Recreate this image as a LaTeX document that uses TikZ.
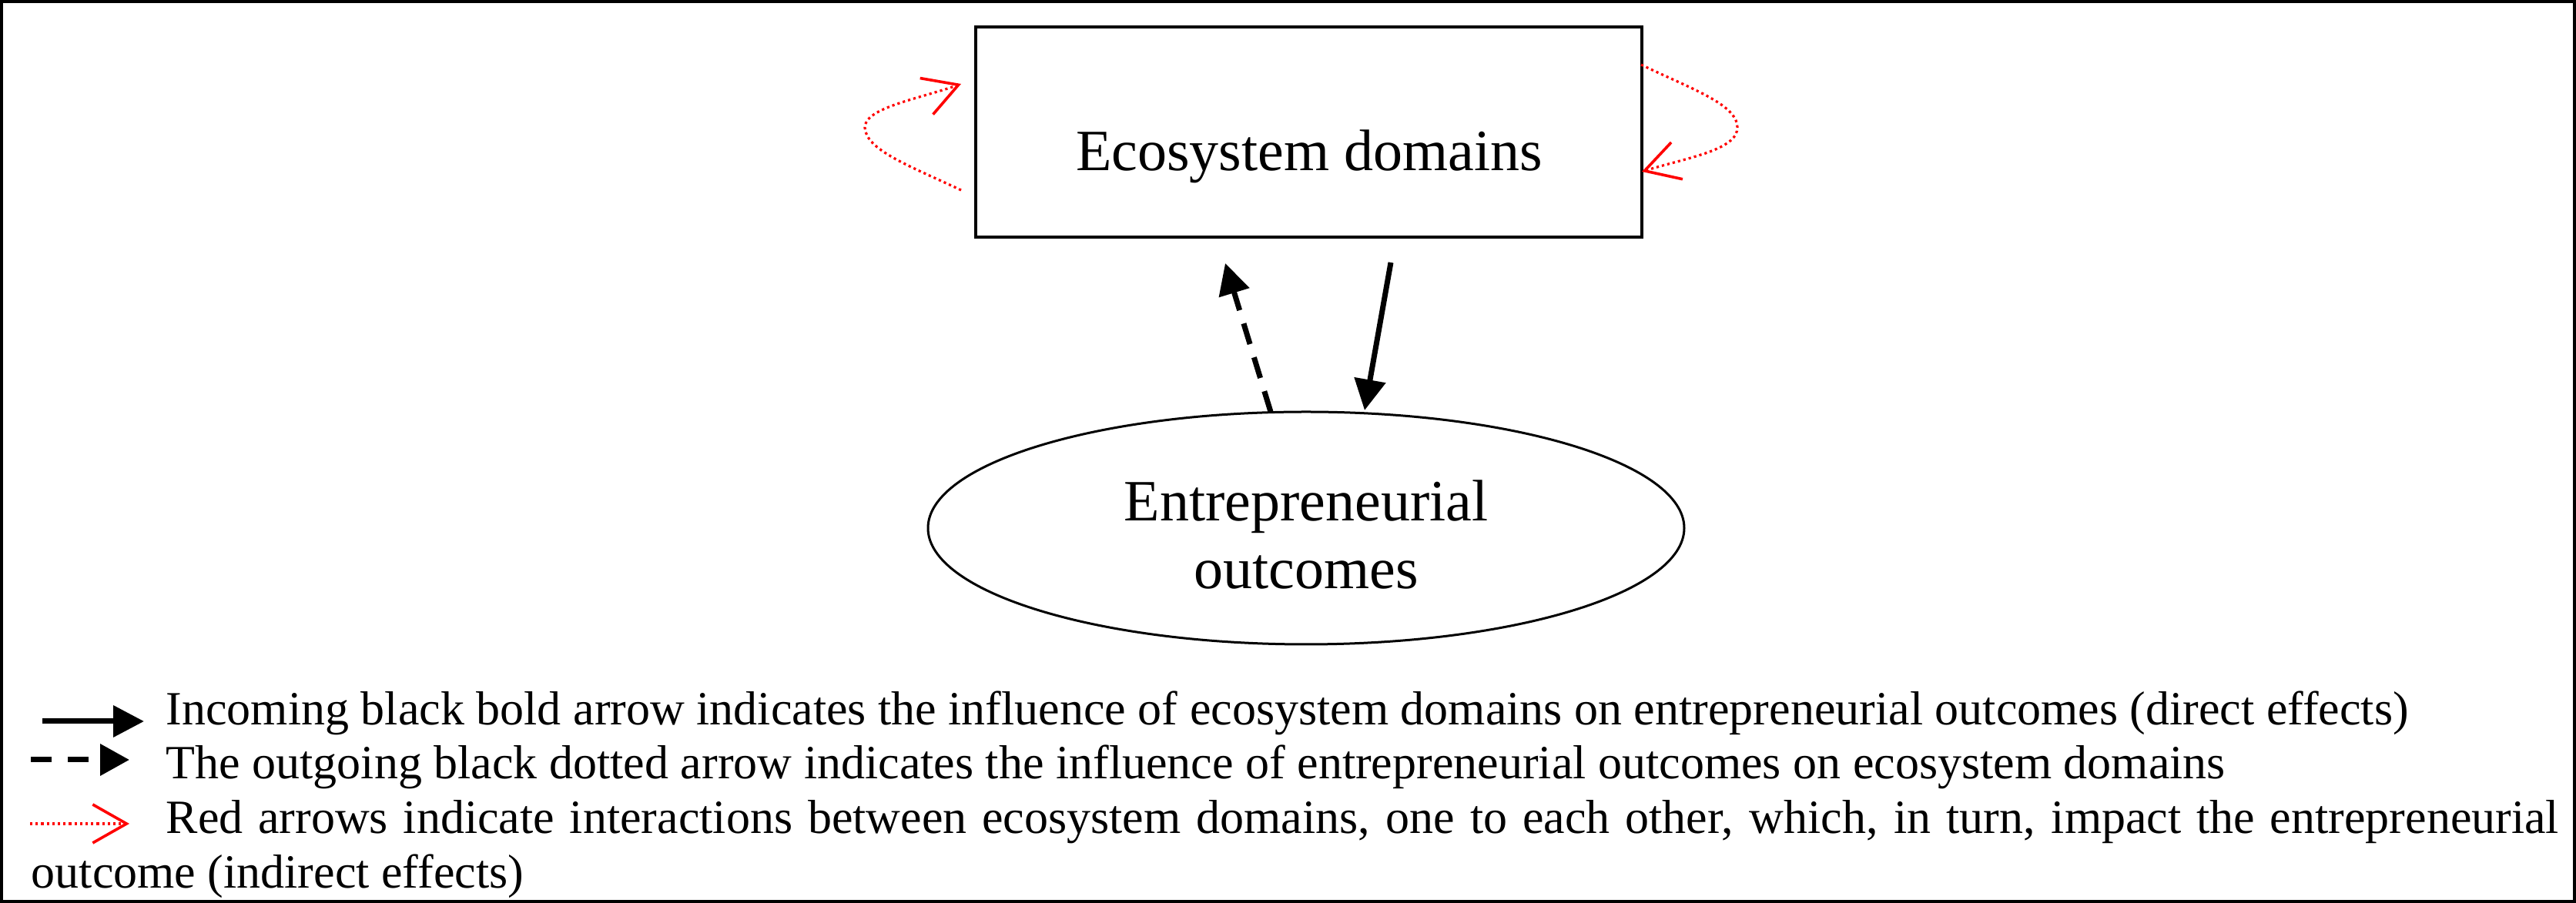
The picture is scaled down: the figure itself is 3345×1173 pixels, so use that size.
\documentclass[tikz,border=0pt]{standalone}
\usepackage{fontspec}
\setmainfont{Liberation Serif}
\usetikzlibrary{arrows.meta,shapes.geometric}
\begin{document}
\begin{tikzpicture}[x=0.25pt,y=-0.25pt,
  frame/.style={draw=black,line width=1pt},
  dombox/.style={draw=black,line width=0.8pt,minimum width=216.25pt,minimum height=68.25pt,inner sep=0pt,outer sep=0pt},
  outell/.style={draw=black,line width=0.75pt,ellipse,minimum width=245.5pt,minimum height=75.5pt,inner sep=0pt,outer sep=0pt},
  bigtxt/.style={font=\fontsize{19}{24}\selectfont,inner sep=0pt,anchor=base},
  legtxt/.style={font=\fontsize{15.5}{18}\selectfont,inner sep=0pt,anchor=base west},
  direct/.style={draw=black,line width=1.75pt,-{Triangle[length=10pt,width=10pt]}},
  feedback/.style={draw=black,line width=1.75pt,dash pattern=on 7pt off 4.5pt,-{Triangle[length=10pt,width=10pt]}},
  redint/.style={draw=red,line width=0.8pt,dash pattern=on 0.8pt off 1pt,-{Straight Barb[length=11pt,width=12.5pt,line width=0.9pt]}},
]
\useasboundingbox (0,0) rectangle (3345,1173);
\draw[frame] (2,2) rectangle (3343,1171);

% main nodes
\node[dombox] (dom) at (1699.5,171.5) {};
\node[bigtxt] (domtxt) at (1700,222) {Ecosystem domains};
\node[outell] (out) at (1696,686) {};
\node[bigtxt] (outtxt1) at (1696,677) {Entrepreneurial};
\node[bigtxt] (outtxt2) at (1696,765) {outcomes};

% connector end points
\coordinate (da) at (1806,341);
\coordinate (db) at (1772,533);
\coordinate (fa) at (1650,535);
\coordinate (fb) at (1591,342);
\coordinate (lA) at (1248,247);
\coordinate (lB) at (1248,109);
\coordinate (rA) at (2131,84);
\coordinate (rB) at (2132,223);

\draw[direct] (da) -- (db);
\draw[feedback] (fa) -- (fb);
\draw[redint] (lA) .. controls (1180,215) and (1125,195) .. (1123,166)
                    .. controls (1122,140) and (1195,128) .. (lB);
\draw[redint] (rA) .. controls (2195,115) and (2255,135) .. (2256,165)
                    .. controls (2257,195) and (2190,205) .. (rB);

% legend
\coordinate (l1a) at (55,937);
\coordinate (l1b) at (187,937);
\coordinate (l2a) at (40,987);
\coordinate (l2b) at (168,987);
\coordinate (l3a) at (39,1070);
\coordinate (l3b) at (168,1070);
\draw[direct] (l1a) -- (l1b);
\draw[black,line width=1.75pt,dash pattern=on 6.75pt off 5.25pt,-{Triangle[length=9.5pt,width=10pt]}] (l2a) -- (l2b);
\draw[redint] (l3a) -- (l3b);

\node[legtxt] (leg1) at (215,942) {Incoming black bold arrow indicates the influence of ecosystem domains on entrepreneurial outcomes (direct effects)};
\node[legtxt] (leg2) at (215,1012) {The outgoing black dotted arrow indicates the influence of entrepreneurial outcomes on ecosystem domains};
\node[legtxt] (leg3) at (215,1083) {\makebox[776.75pt][s]{Red arrows indicate interactions between ecosystem domains, one to each other, which, in turn, impact the entrepreneurial}};
\node[legtxt] (leg4) at (40,1154) {outcome (indirect effects)};
\end{tikzpicture}
\end{document}
